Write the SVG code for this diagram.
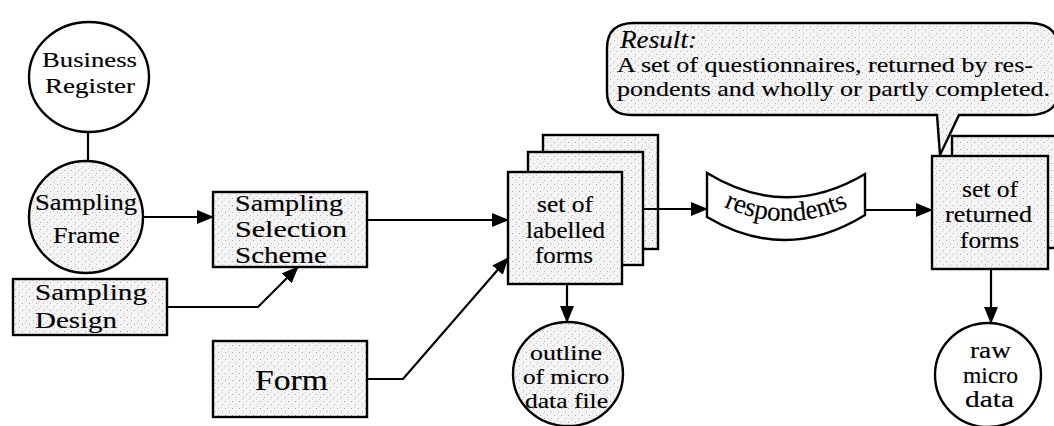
<svg xmlns="http://www.w3.org/2000/svg" width="1054" height="426" viewBox="0 0 1054 426" font-family="'Liberation Serif', 'Times New Roman', serif">
<style>
  .ln{fill:none;stroke:#000;stroke-width:2.2}
  .sh{fill:url(#st);stroke:#000;stroke-width:2.4}
  .wh{fill:#fff;stroke:#000;stroke-width:2.4}
  text{font-family:'Liberation Serif','Times New Roman',serif;fill:#000;stroke:#000;stroke-width:0.15px}
  .t21{font-size:21px}
  .t22{font-size:22px}
  .t23{font-size:23px}
  .t24{font-size:24px}
  .t25{font-size:25px}
  .t27{font-size:27px}
  .t30{font-size:30px}
  .it{font-style:italic;font-size:26px}
</style>
<defs>
  <pattern id="st" width="7" height="7" patternUnits="userSpaceOnUse">
    <rect width="7" height="7" fill="#f4f4f4"/>
    <rect x="1" y="2" width="1" height="1" fill="#a8a8a8"/>
    <rect x="5" y="5" width="1" height="1" fill="#bcbcbc"/>
    <rect x="4" y="0" width="1" height="1" fill="#d0d0d0"/>
  </pattern>
  <marker id="ah" markerWidth="17" markerHeight="14" refX="16" refY="7" orient="auto" markerUnits="userSpaceOnUse">
    <path d="M0,0 L17,7 L0,14 Z" fill="#000"/>
  </marker>
  <path id="rp" d="M714,202 Q786,240 858,202"/>
</defs>
<rect width="1054" height="426" fill="#fff"/>

<g id="business-register">
  <ellipse class="wh" cx="89" cy="77" rx="60" ry="55"/>
  <text class="t22" x="42" y="67" textLength="95" lengthAdjust="spacingAndGlyphs">Business</text>
  <text class="t22" x="45" y="93" textLength="90" lengthAdjust="spacingAndGlyphs">Register</text>
</g>

<g id="sampling-frame">
  <ellipse class="sh" cx="86" cy="217" rx="57" ry="56"/>
  <text class="t23" x="35" y="210" textLength="102" lengthAdjust="spacingAndGlyphs">Sampling</text>
  <text class="t23" x="53" y="243" textLength="67" lengthAdjust="spacingAndGlyphs">Frame</text>
</g>

<g id="sampling-selection-scheme">
  <rect class="sh" x="213" y="192" width="154" height="75"/>
  <text class="t24" x="235" y="211" textLength="108" lengthAdjust="spacingAndGlyphs">Sampling</text>
  <text class="t24" x="235" y="237" textLength="112" lengthAdjust="spacingAndGlyphs">Selection</text>
  <text class="t24" x="235" y="263" textLength="92" lengthAdjust="spacingAndGlyphs">Scheme</text>
</g>

<g id="sampling-design">
  <rect class="sh" x="13" y="279" width="154" height="56"/>
  <text class="t24" x="35" y="300" textLength="112" lengthAdjust="spacingAndGlyphs">Sampling</text>
  <text class="t24" x="35" y="328" textLength="82" lengthAdjust="spacingAndGlyphs">Design</text>
</g>

<g id="form">
  <rect class="sh" x="213" y="341" width="154" height="76"/>
  <text class="t30" x="255" y="390" textLength="73" lengthAdjust="spacingAndGlyphs">Form</text>
</g>

<g id="labelled-forms">
  <rect class="sh" x="543" y="135" width="115" height="114"/>
  <rect class="sh" x="528" y="152" width="115" height="113"/>
  <rect class="sh" x="508" y="172" width="114" height="112"/>
  <text class="t23" x="537" y="212" textLength="56" lengthAdjust="spacingAndGlyphs">set of</text>
  <text class="t23" x="526" y="238" textLength="79" lengthAdjust="spacingAndGlyphs">labelled</text>
  <text class="t23" x="535" y="263" textLength="58" lengthAdjust="spacingAndGlyphs">forms</text>
</g>

<g id="outline-micro-data-file">
  <ellipse class="sh" cx="568" cy="374" rx="55" ry="52"/>
  <text class="t21" x="530" y="360" textLength="72" lengthAdjust="spacingAndGlyphs">outline</text>
  <text class="t21" x="523" y="384" textLength="86" lengthAdjust="spacingAndGlyphs">of micro</text>
  <text class="t21" x="525" y="408" textLength="83" lengthAdjust="spacingAndGlyphs">data file</text>
</g>

<g id="respondents">
  <path class="wh" d="M707,173 Q786,221 865,174 L865,215 Q786,264 707,217 Z"/>
  <text class="t27"><textPath href="#rp" startOffset="50%" text-anchor="middle">respondents</textPath></text>
</g>

<g id="result-callout">
  <path class="sh" d="M634,23 L1028,23 Q1058,23 1058,48 L1058,92 Q1058,115 1028,115 L959,115 L940,155 L937,115 L632,115 Q607,115 607,92 L607,48 Q607,23 634,23 Z"/>
  <text class="it" x="620" y="48" textLength="77" lengthAdjust="spacingAndGlyphs">Result:</text>
  <text class="t22" x="617" y="72" textLength="416" lengthAdjust="spacingAndGlyphs">A set of questionnaires, returned by res-</text>
  <text class="t22" x="617" y="96" textLength="433" lengthAdjust="spacingAndGlyphs">pondents and wholly or partly completed.</text>
</g>

<g id="returned-forms">
  <rect class="sh" x="952" y="136" width="110" height="112"/>
  <rect class="sh" x="932" y="156" width="116" height="113"/>
  <text class="t23" x="962" y="197" textLength="56" lengthAdjust="spacingAndGlyphs">set of</text>
  <text class="t23" x="945" y="222" textLength="87" lengthAdjust="spacingAndGlyphs">returned</text>
  <text class="t23" x="960" y="248" textLength="59" lengthAdjust="spacingAndGlyphs">forms</text>
</g>

<g id="raw-micro-data">
  <ellipse class="wh" cx="988" cy="375" rx="53" ry="52"/>
  <text class="t23" x="970" y="358" textLength="41" lengthAdjust="spacingAndGlyphs">raw</text>
  <text class="t23" x="963" y="383" textLength="55" lengthAdjust="spacingAndGlyphs">micro</text>
  <text class="t23" x="965" y="407" textLength="49" lengthAdjust="spacingAndGlyphs">data</text>
</g>

<g id="connectors">
  <line class="ln" x1="88" y1="132" x2="88" y2="161"/>
  <line class="ln" x1="143" y1="217" x2="213" y2="217" marker-end="url(#ah)"/>
  <polyline class="ln" points="167,307 258,307 298,267" marker-end="url(#ah)"/>
  <line class="ln" x1="367" y1="220" x2="508" y2="220" marker-end="url(#ah)"/>
  <polyline class="ln" points="367,379 403,379 508,258" marker-end="url(#ah)"/>
  <line class="ln" x1="567" y1="284" x2="567" y2="322" marker-end="url(#ah)"/>
  <line class="ln" x1="643" y1="209" x2="707" y2="209" marker-end="url(#ah)"/>
  <line class="ln" x1="865" y1="210" x2="932" y2="210" marker-end="url(#ah)"/>
  <line class="ln" x1="991" y1="269" x2="991" y2="323" marker-end="url(#ah)"/>
</g>
</svg>
